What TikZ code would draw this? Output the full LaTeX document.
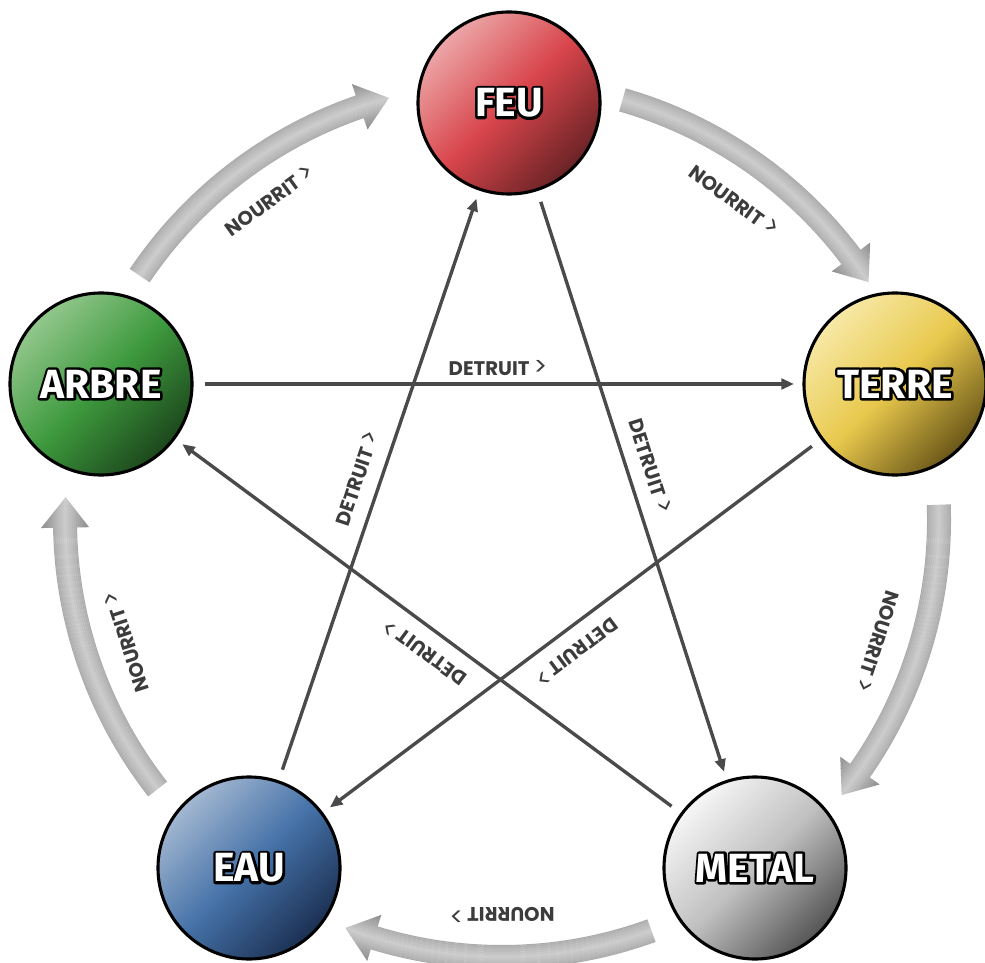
\documentclass[tikz,border=0pt]{standalone}
\usepackage{fontspec}
\usetikzlibrary{arrows.meta, calc}
\newfontfamily\elemfont{Fira Sans}
\newfontfamily\tagfont{Poppins}
\newcommand{\outlined}[1]{\rlap{\special{pdf:literal direct 1 j 3.6 w 2 Tr 0 0 0 RG 0 0 0 rg}#1\special{pdf:literal direct 0 Tr 1 1 1 rg}}#1}
\newcommand{\chev}{{\fontsize{18}{16}\selectfont\mdseries >}}
\definecolor{feuL}{HTML}{ECA6A8}
\definecolor{feuM}{HTML}{D8454B}
\definecolor{feuD}{HTML}{6A2326}
\definecolor{arbreL}{HTML}{93C78D}
\definecolor{arbreM}{HTML}{3E9A3E}
\definecolor{arbreD}{HTML}{1C471C}
\definecolor{terreL}{HTML}{F7E9A6}
\definecolor{terreM}{HTML}{E8C84C}
\definecolor{terreD}{HTML}{6A5718}
\definecolor{eauL}{HTML}{A3B7D1}
\definecolor{eauM}{HTML}{4572A8}
\definecolor{eauD}{HTML}{1B3052}
\definecolor{metalL}{HTML}{F6F6F6}
\definecolor{metalM}{HTML}{C0C0C0}
\definecolor{metalD}{HTML}{555555}
\definecolor{cline}{HTML}{4A4A4A}
\definecolor{ctext}{HTML}{3C3C3C}
\tikzset{
  elem/.style n args={3}{circle, draw=black, line width=2.2pt, minimum size=4.55cm, inner sep=0pt,
    top color=#1, bottom color=#3, middle color=#2, shading angle=45,
    text=white, font=\elemfont\bfseries\fontsize{29}{31}\selectfont},
  destroy/.style={-{Triangle[length=9pt, width=7.5pt]}, draw=cline, line width=2.4pt, shorten <=8pt, shorten >=6pt},
  tag/.style={font=\tagfont\bfseries\fontsize{14}{16}\selectfont, text=ctext, inner sep=1pt},
}

\begin{document}
\begin{tikzpicture}[x=0.025cm, y=0.025cm]
  \useasboundingbox (0,0) rectangle (985,962);
  \coordinate (O) at (502,442);
  % fat grey arrows of the feeding cycle
  \foreach \i in {0,...,4} {
    \pgfmathsetmacro\aS{146-72*\i}
    \pgfmathsetmacro\aE{105-72*\i}
    \pgfmathsetmacro\aH{\aE+4}
    \pgfmathsetmacro\aM{126-72*\i}
    \begin{scope}
      \clip ($(O)+(\aS:449)$) arc[start angle=\aS, end angle=\aH, radius=449]
        -- ($(O)+(\aH:461)$) -- ($(O)+(\aE:437)$) -- ($(O)+(\aH:413)$) -- ($(O)+(\aH:425)$)
        arc[start angle=\aH, end angle=\aS, radius=425] -- cycle;
      \foreach \d in {-24,-22,...,24} {
        \pgfmathtruncatemacro\g{20+26*abs(\d)/24}
        \draw[line width=1.6pt, black!\g] (O) circle[radius={437+\d}];
      }
    \end{scope}
    \node[tag, rotate=\aM-90] (feed\i) at ($(O)+(\aM:395)$) {NOURRIT \chev};
  }
  \node[elem={feuL}{feuM}{feuD}] (feu) at (509,859) {\outlined{FEU}};
  \node[elem={arbreL}{arbreM}{arbreD}] (arbre) at (101,578) {\outlined{ARBRE}};
  \node[elem={terreL}{terreM}{terreD}] (terre) at (895,578) {\outlined{TERRE}};
  \node[elem={eauL}{eauM}{eauD}] (eau) at (249,94) {\outlined{EAU}};
  \node[elem={metalL}{metalM}{metalD}] (metal) at (755,94) {\outlined{METAL}};
  % destruction star
  \draw[destroy] (arbre) -- node[tag, above=4pt] (kill1) {DETRUIT \chev} (terre);
  \draw[destroy] (eau) -- node[tag, sloped, above=9pt, pos=.5] (kill2) {DETRUIT \chev} (feu);
  \draw[destroy] (feu) -- node[tag, sloped, above=9pt, pos=.48] (kill3) {DETRUIT \chev} (metal);
  \draw[destroy] (terre) -- node[tag, sloped, allow upside down, above=9pt, pos=.52] (kill4) {DETRUIT \chev} (eau);
  \draw[destroy] (metal) -- node[tag, sloped, allow upside down, above=9pt, pos=.48] (kill5) {DETRUIT \chev} (arbre);
\end{tikzpicture}
\end{document}
